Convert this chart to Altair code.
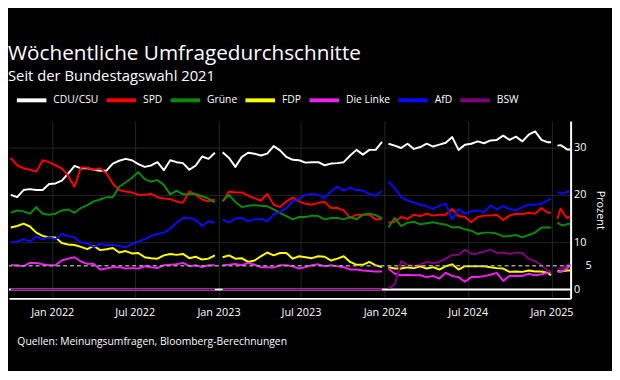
import altair as alt
import pandas as pd

# ---- data (biweekly reads, weekly in the last stretch) ----
dates_a = list(pd.date_range("2021-10-02", periods=33, freq="14D"))
dates_b = list(pd.date_range("2023-01-10", periods=26, freq="14D"))
dates_c = list(pd.date_range("2024-01-09", periods=26, freq="14D")) + [pd.Timestamp("2024-12-31")]
dates_d = list(pd.date_range("2025-01-14", periods=5, freq="7D"))

parties = ["CDU/CSU", "SPD", "Grüne", "FDP", "Die Linke", "AfD", "BSW"]
colors = ["#ffffff", "#ff0000", "#0b8a0b", "#ffff00", "#ee22ee", "#0a0aff", "#800080"]

cdu = [20.0, 19.5, 21.0, 21.2, 21.0, 21.0, 22.3, 22.4, 23.0, 24.5, 26.1, 25.6, 25.6, 25.3, 25.1, 25.1, 26.6,
       27.2, 27.6, 27.3, 26.5, 25.9, 26.2, 26.9, 25.2, 27.3, 26.9, 26.7, 25.3, 26.2, 28.1, 27.6, 28.9,
       29.0, 27.8, 25.9, 28.0, 28.9, 28.7, 28.3, 28.7, 30.3, 29.4, 28.0, 27.4, 27.3, 26.8, 26.9, 26.9,
       26.25, 26.6, 26.7, 26.9, 28.3, 29.5, 28.5, 29.5, 29.5, 31.2,
       30.8, 30.4, 29.9, 30.8, 29.7, 30.1, 30.8, 30.2, 30.6, 31.0, 32.2, 29.5, 30.6, 30.8, 31.3, 30.9,
       31.5, 31.6, 32.5, 31.6, 32.3, 31.3, 32.7, 33.4, 31.6, 31.1, 31.1,
       30.4, 30.5, 30.1, 29.6, 29.6]
spd = [27.8, 26.25, 25.6, 25.3, 24.9, 27.3, 26.9, 26.25, 25.6, 24.0, 21.7, 25.8, 25.7, 25.3, 25.6, 24.5, 22.4,
       21.0, 20.7, 20.5, 20.0, 20.0, 20.2, 19.5, 19.2, 19.1, 18.6, 18.3, 20.7, 20.0, 19.0, 18.6, 19.0,
       18.6, 20.7, 20.5, 20.5, 19.8, 19.3, 18.75, 20.2, 17.9, 17.4, 18.6, 19.4, 18.6, 18.1, 17.9, 18.3,
       18.5, 17.2, 17.2, 16.7, 15.1, 15.8, 15.8, 15.8, 14.8, 14.9,
       14.1, 14.3, 15.3, 14.9, 15.8, 15.5, 16.0, 15.6, 15.8, 15.8, 17.0, 15.5, 15.3, 14.2, 15.3, 15.6,
       15.6, 15.8, 14.65, 15.6, 16.0, 15.9, 16.2, 16.0, 17.2, 16.2, 16.2,
       14.9, 17.1, 16.0, 15.1, 15.3]
gruene = [16.2, 16.7, 16.5, 16.0, 17.4, 16.0, 15.8, 16.0, 16.7, 16.9, 16.2, 17.2, 17.8, 18.6, 19.0, 19.5, 19.5,
          21.7, 22.6, 23.6, 24.8, 23.3, 22.8, 23.1, 22.1, 20.1, 20.9, 20.1, 20.1, 20.2, 19.7, 19.2, 18.4,
          18.6, 20.0, 18.5, 17.4, 17.7, 17.8, 17.7, 17.6, 16.9, 16.2, 15.5, 14.8, 15.3, 15.3, 15.6, 15.5,
          14.8, 15.1, 15.1, 14.8, 15.3, 14.8, 15.8, 16.0, 15.7, 15.0,
          13.1, 15.1, 13.4, 14.1, 14.3, 13.75, 14.0, 14.2, 13.9, 13.7, 13.1, 13.2, 12.7, 12.4, 11.7, 12.0,
          12.0, 11.8, 11.2, 11.3, 11.5, 11.0, 11.5, 12.0, 13.1, 13.1, 13.1,
          14.1, 13.7, 13.5, 13.8, 13.9]
fdp = [13.1, 13.4, 13.9, 13.3, 12.0, 11.3, 11.0, 11.0, 9.8, 9.5, 9.4, 9.0, 8.5, 9.2, 8.3, 8.5, 8.75,
       7.8, 8.1, 7.6, 7.7, 6.8, 6.6, 6.5, 7.2, 7.5, 7.3, 7.5, 6.6, 6.9, 6.3, 6.5, 7.2,
       6.8, 7.2, 6.5, 6.6, 5.8, 6.1, 7.0, 7.8, 7.2, 7.7, 7.7, 6.5, 7.0, 6.8, 6.6, 7.0,
       6.9, 6.1, 6.5, 7.0, 5.8, 5.2, 5.2, 5.8, 5.1, 4.7,
       4.7, 4.4, 4.4, 4.65, 4.5, 4.9, 4.4, 4.7, 4.2, 4.9, 5.3, 4.2, 4.9, 4.9, 4.9, 4.9,
       4.7, 4.5, 4.4, 3.7, 3.8, 3.7, 4.0, 3.8, 3.8, 3.5, 3.0,
       3.9, 3.8, 3.9, 4.0, 4.0]
linke = [5.1, 5.1, 4.9, 5.6, 5.6, 5.3, 5.1, 5.1, 6.1, 6.5, 6.8, 5.9, 5.4, 5.4, 4.2, 4.4, 4.7,
         4.7, 4.4, 4.5, 4.4, 4.9, 4.7, 4.5, 5.1, 5.2, 5.3, 5.6, 4.9, 5.1, 4.7, 5.1, 5.1,
         5.1, 5.2, 5.4, 5.1, 5.6, 5.2, 4.7, 4.7, 4.6, 5.1, 5.1, 4.9, 4.4, 4.7, 5.1, 5.3,
         4.9, 5.1, 4.9, 4.7, 4.2, 4.2, 4.0, 3.9, 3.8, 3.8,
         4.4, 3.3, 3.0, 3.1, 3.0, 3.0, 2.6, 2.85, 2.3, 3.5, 2.85, 2.6, 1.6, 2.6, 2.6, 2.8,
         3.1, 3.5, 1.8, 2.85, 2.9, 2.85, 3.3, 3.0, 3.2, 3.5, 3.7,
         3.8, 3.7, 4.0, 4.5, 4.9]
afd = [9.9, 10.1, 10.6, 10.1, 11.1, 10.6, 11.0, 10.6, 11.7, 11.3, 11.0, 9.9, 9.8, 9.0, 9.6, 9.4, 9.4,
       9.2, 8.9, 9.6, 10.1, 10.6, 11.3, 11.7, 12.0, 12.8, 14.1, 15.1, 15.1, 14.7, 13.4, 14.4, 14.1,
       14.8, 14.1, 15.0, 15.1, 14.4, 14.8, 14.9, 14.4, 15.8, 16.4, 17.2, 18.6, 19.1, 20.0, 20.2, 20.0,
       19.3, 20.7, 21.7, 20.9, 21.5, 21.0, 20.9, 20.2, 19.8, 20.8,
       22.8, 21.4, 19.5, 18.75, 18.4, 17.9, 17.6, 17.0, 17.7, 18.1, 14.8, 17.0, 16.0, 16.5, 16.7, 16.3,
       17.7, 16.9, 17.6, 17.0, 16.7, 17.4, 17.9, 17.9, 18.1, 18.8, 19.2,
       20.6, 20.3, 20.3, 20.6, 20.7]
bsw = [0.0] * 33 + [0.0] * 26 + [
       0.2, 1.0, 6.0, 5.2, 4.9, 5.3, 5.8, 5.6, 5.8, 6.5, 7.3, 7.3, 8.4, 7.5, 7.6, 8.0,
       8.4, 7.7, 7.8, 7.5, 7.8, 7.7, 6.5, 6.0, 5.1, 4.0, 3.7,
       4.4, 4.4, 4.7, 5.1, 5.4]

x_ticks = [(2022, 1), (2022, 7), (2023, 1), (2023, 7), (2024, 1), (2024, 7), (2025, 1)]
y_ticks = [0, 10, 20, 30]
threshold = 5
title = "Wöchentliche Umfragedurchschnitte"
subtitle = "Seit der Bundestagswahl 2021"
source = "Quellen: Meinungsumfragen, Bloomberg-Berechnungen"

# ---- table ----
dates = dates_a + dates_b + dates_c + dates_d
segs = [0] * len(dates_a) + [1] * len(dates_b) + [2] * len(dates_c) + [3] * len(dates_d)
series = dict(zip(parties, [cdu, spd, gruene, fdp, linke, afd, bsw]))
rows = []
for p, vals in series.items():
    for d, s, v in zip(dates, segs, vals):
        rows.append({"date": d, "party": p, "seg": s, "v": v})
df = pd.DataFrame(rows)

FONT = "Open Sans"
W, H = 570, 180

yscale = alt.Scale(domain=[-1.9, 35.6], nice=False, zero=False)
yaxis = alt.Axis(orient="right", values=y_ticks, title="Prozent", grid=True, gridColor="#262626",
                 ticks=False, labelPadding=3, labelFontSize=11, labelColor="white",
                 domainColor="white", domainWidth=2, titleColor="white", titleFontSize=11,
                 titleFontWeight="normal", titlePadding=9, labelFont=FONT, titleFont=FONT)
Y = alt.Y("v:Q", scale=yscale, axis=yaxis)

xaxis = alt.Axis(values=[alt.DateTime(year=y, month=m, date=1) for y, m in x_ticks],
                 format="%b %Y", grid=True, gridColor="#262626", ticks=False, labelPadding=8,
                 labelFontSize=11, labelColor="white", domainColor="white", domainWidth=2,
                 labelFont=FONT, title=source, titleAnchor="start", titleAlign="left",
                 titleX=8, titleY=47, titleBaseline="alphabetic", titleColor="white",
                 titleFontSize=10.5, titleFontWeight="normal", titleFont=FONT)
X = alt.X("date:T", scale=alt.Scale(domain=[alt.DateTime(year=2021, month=9, date=28),
                                            alt.DateTime(year=2025, month=2, date=12)]),
          axis=xaxis)

zero = alt.Chart(pd.DataFrame({"v": [0]})).mark_rule(color="white", strokeWidth=2).encode(y=Y)

lines = alt.Chart(df).mark_line(strokeWidth=2, strokeJoin="round").encode(
    x=X, y=Y,
    color=alt.Color("party:N", scale=alt.Scale(domain=parties, range=colors),
                    legend=alt.Legend(orient="none", legendX=6, legendY=-38, direction="horizontal",
                                      title=None, symbolType="stroke", symbolSize=900,
                                      symbolStrokeWidth=4, labelFontSize=10.5, labelColor="white",
                                      labelFont=FONT, columnPadding=0, labelOffset=5)),
    detail="seg:N",
    order=alt.Order("date:T"),
)

dash = alt.Chart(pd.DataFrame({"v": [threshold]})).mark_rule(
    color="#9a9a9a", strokeWidth=1.5, strokeDash=[4, 3]).encode(y=Y)

five = alt.Chart(pd.DataFrame({"v": [threshold], "t": [str(threshold)]})).mark_text(
    align="left", baseline="middle", color="white", fontSize=11, font=FONT).encode(
    y=Y, x=alt.value(W + 15), text="t:N")

chart = alt.layer(zero, lines, dash, five).properties(
    width=W, height=H,
    background="black",
    padding={"left": 0, "top": 33, "right": 6, "bottom": 21},
    title=alt.TitleParams(text=title, subtitle=subtitle, anchor="start", color="white",
                          subtitleColor="white", fontSize=21, subtitleFontSize=15,
                          font=FONT, subtitleFont=FONT, fontWeight="normal", offset=0,
                          subtitlePadding=5),
).configure_view(stroke=None)

chart.save("out.html", embed_options={"renderer": "svg", "actions": False})
